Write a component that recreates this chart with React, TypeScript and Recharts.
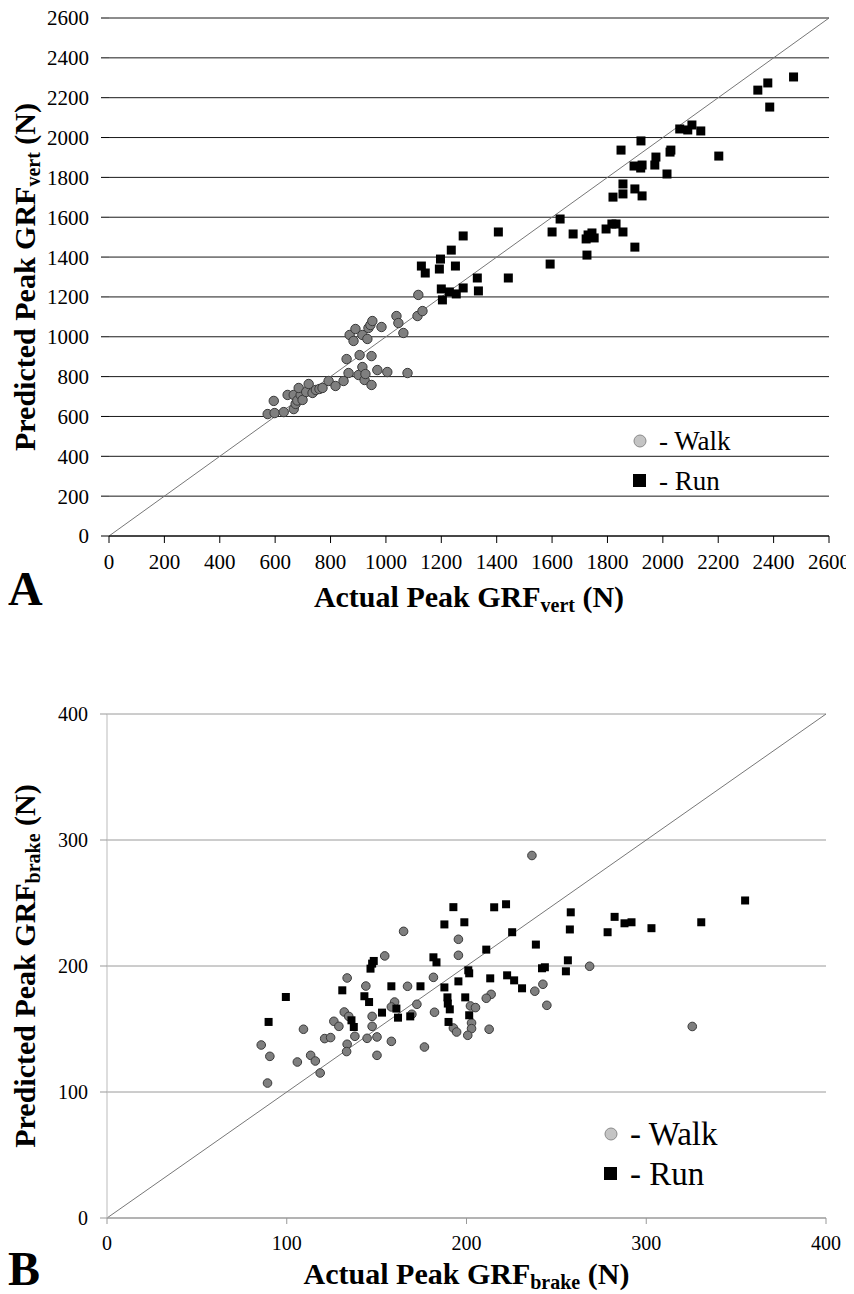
import React from "react";
import {
  CartesianGrid,
  Legend,
  ReferenceLine,
  Scatter,
  ScatterChart,
  XAxis,
  YAxis,
} from "recharts";

const FONT = "'Liberation Serif', 'Times New Roman', Tinos, 'DejaVu Serif', serif";

// panel A: vertical GRF, [actual, predicted] in N
const walkVert: [number, number][] = [
  [573, 612], [598, 617], [595, 678], [631, 622], [645, 708], [667, 708], [667, 637],
  [674, 663], [680, 680], [692, 708], [685, 743], [699, 683], [712, 723], [721, 763],
  [735, 718], [747, 733], [760, 738], [771, 743], [793, 778], [818, 753], [847, 778],
  [858, 888], [865, 818], [869, 1009], [883, 979], [890, 1039], [901, 808], [905, 908],
  [915, 1009], [915, 848], [923, 783], [926, 813], [933, 989], [937, 1044], [944, 1059],
  [948, 903], [948, 758], [951, 1079], [969, 833], [984, 1049], [1005, 823], [1038, 1104],
  [1045, 1069], [1063, 1019], [1078, 818], [1114, 1104], [1132, 1129], [1117, 1210],
];

const runVert: [number, number][] = [
  [1128, 1355], [1142, 1320], [1193, 1340], [1197, 1390], [1236, 1435], [1251, 1355],
  [1279, 1506], [1200, 1240], [1229, 1225], [1254, 1215], [1279, 1245], [1204, 1185],
  [1330, 1295], [1334, 1230], [1406, 1526], [1442, 1295], [1593, 1365], [1600, 1526],
  [1629, 1591], [1676, 1516], [1726, 1410], [1730, 1511], [1744, 1521], [1752, 1496],
  [1723, 1491], [1795, 1541], [1816, 1566], [1831, 1566], [1856, 1526], [1899, 1450],
  [1820, 1701], [1856, 1717], [1856, 1767], [1899, 1742], [1925, 1707], [1896, 1857],
  [1925, 1862], [1920, 1847], [1849, 1937], [1921, 1983], [1975, 1902], [1971, 1862],
  [2029, 1937], [2026, 1927], [2015, 1817], [2202, 1907], [2061, 2043], [2090, 2038],
  [2105, 2063], [2137, 2033], [2343, 2238], [2379, 2274], [2386, 2153], [2472, 2304],
];

// panel B: braking GRF
const walkBrake: [number, number][] = [
  [236.4, 287.7], [165, 227.5], [195.5, 221.2], [195.5, 208.5], [181.6, 191], [167.2, 183.9],
  [268.5, 199.8], [242.5, 185.5], [238, 180], [213.7, 177.5], [211, 174.4], [325.6, 152],
  [133.6, 190.5], [144, 184.1], [132, 163.5], [134.5, 160], [126.2, 156.1], [129, 152.1],
  [147.5, 160], [147.5, 152.1], [137.9, 144.2], [144.7, 142.6], [121.1, 142.4], [124.4, 143.2],
  [109.3, 149.8], [85.8, 137.3], [90.6, 128.3], [105.9, 123.8], [113.3, 129.1], [115.9, 124.6],
  [118.6, 115.1], [89.3, 107.1], [133.6, 137.9], [133.3, 132.1], [150.2, 143.7], [150.2, 129.1],
  [154.5, 208], [244.7, 168.8], [202.2, 168.3], [205, 167], [202.8, 154.8], [202.8, 150.3],
  [200.7, 145], [192.7, 150.8], [194.5, 147.6], [212.6, 149.8], [182.2, 163.3], [172.4, 169.6],
  [169.6, 161.7], [160, 171.4], [158.2, 167.5], [158.2, 140.2], [176.6, 135.7],
];

const runBrake: [number, number][] = [
  [192.7, 246.7], [215.4, 246.6], [222, 249], [187.7, 233], [198.8, 234.7], [258, 242.6],
  [257.5, 229], [282.4, 239], [287.9, 233.9], [278.5, 226.8], [225.4, 226.8], [211, 213],
  [238.6, 217], [181.6, 206.9], [183.3, 202.9], [201, 196.6], [201.5, 194.2], [242, 198.2],
  [243.6, 199], [256.4, 204.5], [255.3, 195.8], [213.2, 190.2], [222.6, 192.6], [226.5, 188.6],
  [230.9, 182.3], [174.4, 183.9], [187.7, 183], [195.5, 187.8], [189.4, 175.1], [199.3, 175.1],
  [355, 252], [330.6, 234.7], [302.9, 230], [291.8, 234.7], [99.5, 175.4], [89.9, 155.6],
  [130.9, 180.7], [143.2, 176], [145.8, 171.4], [146.6, 197.9], [147.5, 201.9], [148.4, 204],
  [136, 156.9], [137.3, 151.6], [158.2, 183.9], [153, 163], [161, 166.2], [161.9, 159],
  [168.7, 160], [189.6, 170.2], [190.7, 165.6], [190, 155.6], [201.5, 160.9],
];

const ticksVert = [0, 200, 400, 600, 800, 1000, 1200, 1400, 1600, 1800, 2000, 2200, 2400, 2600];
const ticksBrake = [0, 100, 200, 300, 400];

const toPts = (a: [number, number][]) => a.map(([x, y]) => ({ x, y }));

const walkShape = (r: number) => (p: any) => (
  <circle cx={p.cx} cy={p.cy} r={r} fill="#7f7f7f" stroke="#3a3a3a" strokeWidth={1} />
);
const runShape = (s: number) => (p: any) => (
  <rect x={p.cx - s / 2} y={p.cy - s / 2} width={s} height={s} fill="#000" />
);

function AxisTitle({ x, y, main, sub, rotate }: any) {
  return (
    <text
      x={x}
      y={y}
      textAnchor="middle"
      fontFamily={FONT}
      fontWeight="bold"
      fontSize={30}
      fill="#000"
      transform={rotate ? `rotate(-90 ${x} ${y})` : undefined}
    >
      <tspan>{main}</tspan>
      <tspan dy={5} fontSize={20}>{sub}</tspan>
      <tspan dy={-5}>{" (N)"}</tspan>
    </text>
  );
}

function legendContent(size: number, rowH: number) {
  return () => (
    <div style={{ fontFamily: FONT, fontSize: size, color: "#000" }}>
      {["Walk", "Run"].map((name) => (
        <div key={name} style={{ display: "flex", alignItems: "center", height: rowH }}>
          <svg width={22} height={22} style={{ marginRight: 8 }}>
            {name === "Walk" ? (
              <circle cx={11} cy={11} r={6} fill="#c4c4c4" stroke="#8a8a8a" />
            ) : (
              <rect x={4} y={4} width={13} height={13} fill="#000" />
            )}
          </svg>
          <span>- {name}</span>
        </div>
      ))}
    </div>
  );
}

export default function App() {
  return (
    <div style={{ position: "relative", width: 854, height: 1294, fontFamily: FONT }}>
      <div style={{ position: "absolute", left: -8, top: -8, fontFamily: FONT }}>
        <ScatterChart width={854} height={640} margin={{ top: 18, right: 25, bottom: 0, left: 0 }}>
          <CartesianGrid vertical={false} stroke="#1a1a1a" />
          <XAxis
            type="number"
            dataKey="x"
            domain={[0, 2600]}
            ticks={ticksVert}
            height={104}
            stroke="#000"
            tickSize={7}
            tickMargin={11}
            tick={{ fill: "#000", fontSize: 21, fontFamily: FONT }}
            label={{
              content: (p: any) => (
                <AxisTitle x={p.viewBox.x + p.viewBox.width / 2} y={p.viewBox.y + 71} main="Actual Peak GRF" sub="vert" />
              ),
            }}
          />
          <YAxis
            type="number"
            dataKey="y"
            domain={[0, 2600]}
            ticks={ticksVert}
            width={109}
            axisLine={false}
            tickLine={{ stroke: "#000" }}
            tickSize={8}
            tickMargin={12}
            tick={{ fill: "#000", fontSize: 21, fontFamily: FONT }}
            label={{
              content: (p: any) => (
                <AxisTitle x={35} y={p.viewBox.y + p.viewBox.height / 2} main="Predicted Peak GRF" sub="vert" rotate />
              ),
            }}
          />
          <ReferenceLine segment={[{ x: 0, y: 0 }, { x: 2600, y: 2600 }]} stroke="#777" strokeWidth={1} />
          <Scatter name="Walk" data={toPts(walkVert)} shape={walkShape(4.7)} isAnimationActive={false} />
          <Scatter name="Run" data={toPts(runVert)} shape={runShape(9)} isAnimationActive={false} />
          <Legend
            layout="vertical"
            align="center"
            verticalAlign="middle"
            content={legendContent(27, 40)}
            wrapperStyle={{ left: 629, top: 421, width: 150 }}
          />
        </ScatterChart>
      </div>

      <div style={{ position: "absolute", left: -8, top: 688, fontFamily: FONT }}>
        <ScatterChart width={854} height={598} margin={{ top: 18, right: 28, bottom: 0, left: 0 }}>
          <CartesianGrid vertical={false} stroke="#9a9a9a" />
          <XAxis
            type="number"
            dataKey="x"
            domain={[0, 400]}
            ticks={ticksBrake}
            height={76}
            stroke="#999"
            tickSize={6}
            tickMargin={12}
            tick={{ fill: "#000", fontSize: 20, fontFamily: FONT }}
            label={{
              content: (p: any) => (
                <AxisTitle x={p.viewBox.x + p.viewBox.width / 2} y={p.viewBox.y + 66} main="Actual Peak GRF" sub="brake" />
              ),
            }}
          />
          <YAxis
            type="number"
            dataKey="y"
            domain={[0, 400]}
            ticks={ticksBrake}
            width={107}
            stroke="#bbb"
            tickLine={{ stroke: "#999" }}
            tickSize={7}
            tickMargin={12}
            tick={{ fill: "#000", fontSize: 20, fontFamily: FONT }}
            label={{
              content: (p: any) => (
                <AxisTitle x={35} y={p.viewBox.y + p.viewBox.height / 2} main="Predicted Peak GRF" sub="brake" rotate />
              ),
            }}
          />
          <ReferenceLine segment={[{ x: 0, y: 0 }, { x: 400, y: 400 }]} stroke="#777" strokeWidth={1} />
          <Scatter name="Walk" data={toPts(walkBrake)} shape={walkShape(4.3)} isAnimationActive={false} />
          <Scatter name="Run" data={toPts(runBrake)} shape={runShape(8)} isAnimationActive={false} />
          <Legend
            layout="vertical"
            align="center"
            verticalAlign="middle"
            content={legendContent(33, 40)}
            wrapperStyle={{ left: 600, top: 418, width: 180 }}
          />
        </ScatterChart>
      </div>

      <svg width={854} height={1294} style={{ position: "absolute", left: -8, top: -8, pointerEvents: "none" }}>
        <text x={8} y={605} fontFamily={FONT} fontWeight="bold" fontSize={48} fill="#000">A</text>
        <text x={8} y={1285} fontFamily={FONT} fontWeight="bold" fontSize={48} fill="#000">B</text>
      </svg>
    </div>
  );
}
